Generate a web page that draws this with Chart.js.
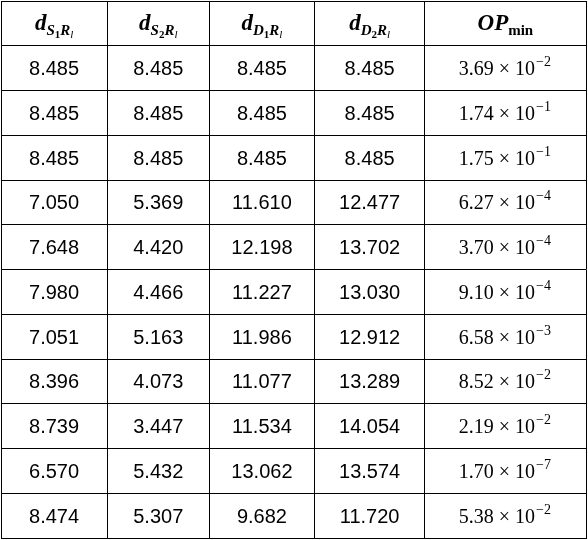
<!DOCTYPE html>
<html><head><meta charset="utf-8">
<script src="https://cdn.jsdelivr.net/npm/chart.js@4"></script>
<style>html,body{margin:0;padding:0;background:#fff}#wrap{width:588px;height:540px}</style>
</head><body><div id="wrap"><canvas id="c"></canvas></div>
<script>
const headers = [["d","S","1","R","l"],["d","S","2","R","l"],["d","D","1","R","l"],["d","D","2","R","l"],["OP","min"]];
const dS1R = ["8.485","8.485","8.485","7.050","7.648","7.980","7.051","8.396","8.739","6.570","8.474"];
const dS2R = ["8.485","8.485","8.485","5.369","4.420","4.466","5.163","4.073","3.447","5.432","5.307"];
const dD1R = ["8.485","8.485","8.485","11.610","12.198","11.227","11.986","11.077","11.534","13.062","9.682"];
const dD2R = ["8.485","8.485","8.485","12.477","13.702","13.030","12.912","13.289","14.054","13.574","11.720"];
const opMant = ["3.69","1.74","1.75","6.27","3.70","9.10","6.58","8.52","2.19","1.70","5.38"];
const opExp = ["−2","−1","−1","−4","−4","−4","−3","−2","−2","−7","−2"];
const columns = [dS1R, dS2R, dD1R, dD2R];
const colEdges = [0,106,208,313,423,584];
const nRows = dS1R.length + 1;

const tablePlugin = {
  id:'table',
  afterDatasetsDraw(chart){
    const ctx = chart.ctx, xs = chart.scales.x, ys = chart.scales.y;
    const cx = j => (xs.getPixelForValue(colEdges[j]) + xs.getPixelForValue(colEdges[j+1]))/2;
    const cy = i => ys.getPixelForValue(i + 0.5);
    ctx.save(); ctx.fillStyle='#000'; ctx.textBaseline='alphabetic';
    // header
    headers.forEach((h,j)=>{
      const y = cy(0)+7;
      const parts = [];
      if (h.length===5){
        parts.push({t:h[0],f:'italic bold 23px "Liberation Serif"',dy:0});
        parts.push({t:h[1],f:'italic bold 15px "Liberation Serif"',dy:5});
        parts.push({t:h[2],f:'bold 11px "Liberation Serif"',dy:8});
        parts.push({t:h[3],f:'italic bold 15px "Liberation Serif"',dy:5});
        parts.push({t:h[4],f:'italic 11px "Liberation Serif"',dy:8});
      } else {
        parts.push({t:h[0],f:'italic bold 23px "Liberation Serif"',dy:0});
        parts.push({t:h[1],f:'bold 15px "Liberation Serif"',dy:5});
      }
      let w=0; parts.forEach(p=>{ctx.font=p.f; p.w=ctx.measureText(p.t).width; w+=p.w;});
      let x = cx(j)-w/2;
      ctx.textAlign='left';
      parts.forEach(p=>{ctx.font=p.f; ctx.fillText(p.t,x,y+p.dy); x+=p.w;});
    });
    // body
    for(let i=0;i<dS1R.length;i++){
      const y = cy(i+1)+7;
      ctx.textAlign='center'; ctx.font='20px "Liberation Sans"';
      columns.forEach((col,j)=>ctx.fillText(col[i],cx(j),y));
      ctx.textAlign='left';
      const a = opMant[i]+' × 10';
      ctx.font='20px "Liberation Serif"'; const wa = ctx.measureText(a).width;
      ctx.font='14px "Liberation Serif"'; const wb = ctx.measureText(opExp[i]).width;
      let x = cx(4)-(wa+wb+2)/2;
      ctx.font='20px "Liberation Serif"'; ctx.fillText(a,x,y);
      ctx.font='14px "Liberation Serif"'; ctx.fillText(opExp[i],x+wa+1,y-9);
    }
    ctx.restore();
  }
};

new Chart(document.getElementById('c'),{
  type:'scatter',
  data:{datasets:[{data:[]}]},
  options:{
    responsive:true, maintainAspectRatio:false, animation:false,
    layout:{padding:{left:1,right:2,top:1,bottom:2}},
    plugins:{legend:{display:false},tooltip:{enabled:false}},
    scales:{
      x:{type:'linear',min:0,max:584,
        afterBuildTicks:s=>{s.ticks=colEdges.map(v=>({value:v}));},
        ticks:{display:false},grid:{color:'#000',lineWidth:1,drawTicks:false},border:{color:'#000'}},
      y:{type:'linear',min:0,max:nRows,reverse:true,
        afterBuildTicks:s=>{s.ticks=Array.from({length:nRows+1},(_,i)=>({value:i}));},
        ticks:{display:false},grid:{color:'#000',lineWidth:1,drawTicks:false},border:{color:'#000'}}
    }
  },
  plugins:[tablePlugin]
});
</script></body></html>
